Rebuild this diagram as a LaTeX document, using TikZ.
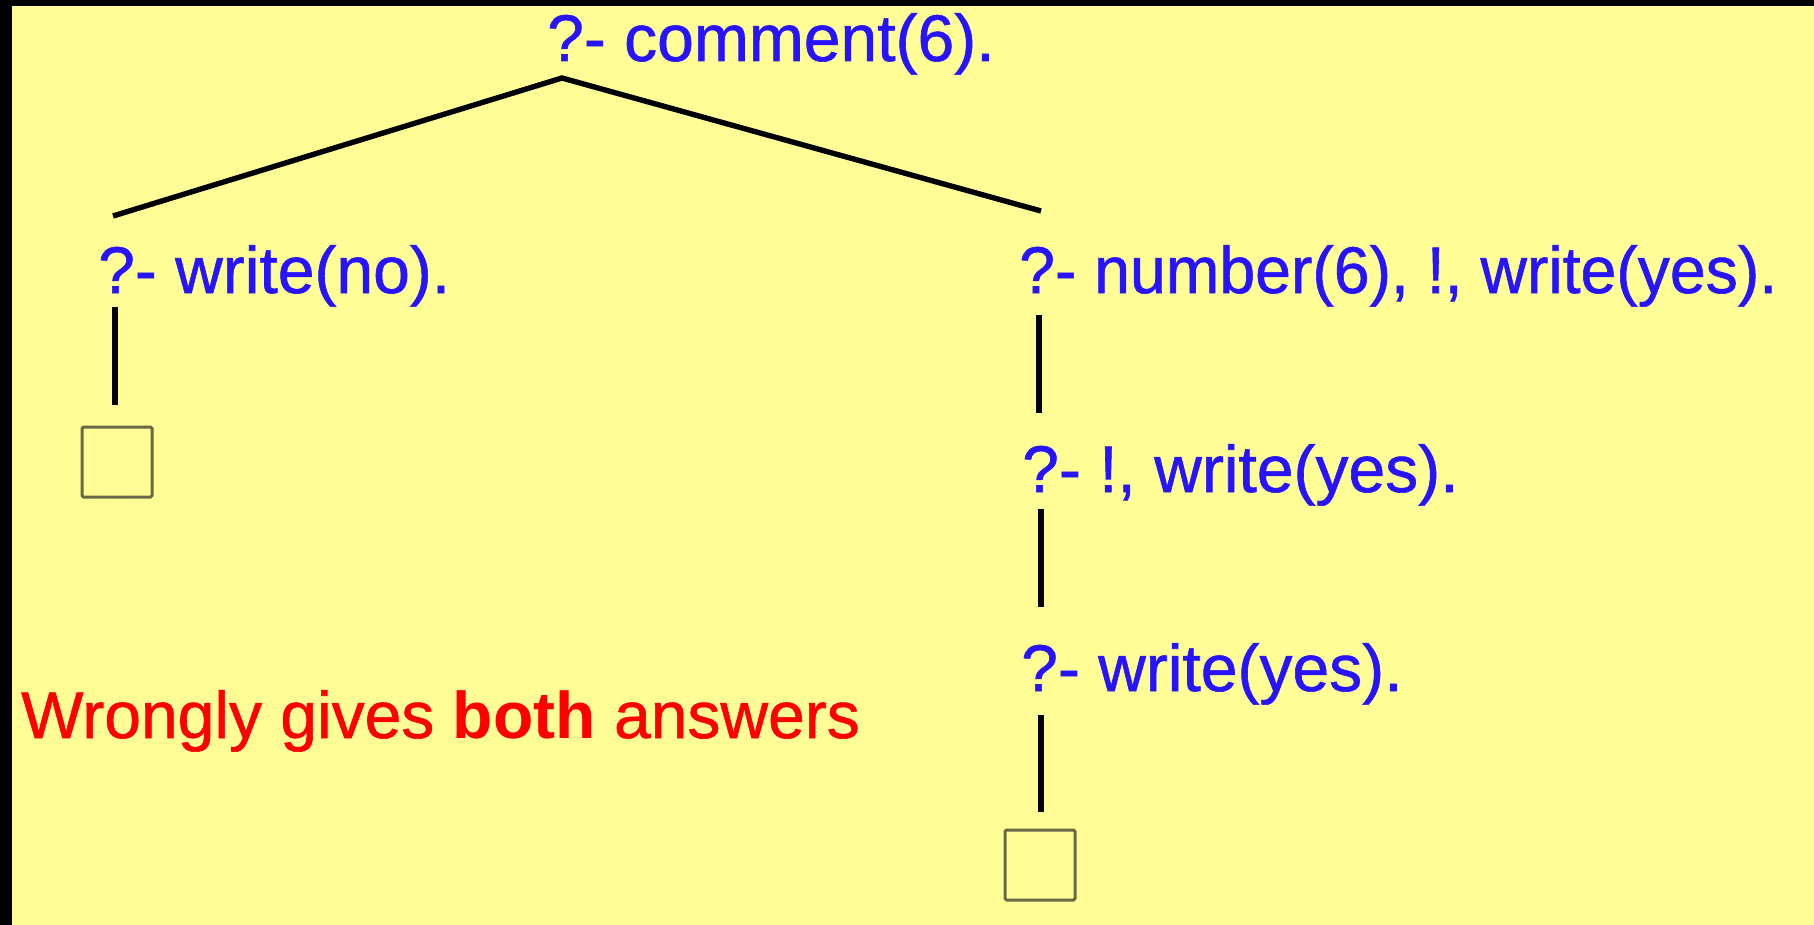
\documentclass[tikz,border=0pt]{standalone}
\usepackage{fontspec}
\setmainfont{Liberation Sans}
\newfontfamily\goalfont{Liberation Sans}[FakeBold=0.9]
\definecolor{bgyellow}{RGB}{255,254,150}
\definecolor{goalblue}{RGB}{40,20,252}
\definecolor{boxgray}{RGB}{105,105,70}
\begin{document}
\begin{tikzpicture}[x=1pt,y=-1pt,
  goal/.style={anchor=base west,inner sep=0pt,text=goalblue,font=\goalfont\fontsize{66pt}{79pt}\selectfont},
  note/.style={anchor=base west,inner sep=0pt,text=red,font=\goalfont\fontsize{66pt}{79pt}\selectfont},
  edge/.style={draw=black,line width=5.4pt},
  emptybox/.style={draw=boxgray,line width=3pt,rounded corners=1.5pt,minimum width=70pt,minimum height=70pt,inner sep=0pt}]
\useasboundingbox (0,0) rectangle (1814,925);
\fill[black] (0,0) rectangle (1814,925);
\fill[bgyellow] (12,6) rectangle (1814,925);
% goals
\node[goal] (root) at (547,61) {?- comment(6).};
\node[goal] (left) at (98,293) {?- write(no).};
\node[goal,xscale=0.975] (r1) at (1019,293) {?- number(6), !, write(yes).};
\node[goal] (r2) at (1022,492) {?- !, write(yes).};
\node[goal] (r3) at (1021,691) {?- write(yes).};
\node[emptybox] (lbox) at (117,462) {};
\node[emptybox] (rbox) at (1040,865) {};
\node[note] (msg) at (21,738) {Wrongly gives {\normalfont\bfseries both} answers};
% connector end points
\coordinate (apex) at (562,78);
\coordinate (lend) at (113,216);
\coordinate (rend) at (1041,211);
\coordinate (la) at (115,307);
\coordinate (lb) at (115,405);
\coordinate (r1a) at (1039,315);
\coordinate (r1b) at (1039,413);
\coordinate (r2a) at (1041,509);
\coordinate (r2b) at (1041,607);
\coordinate (r3a) at (1041,715);
\coordinate (r3b) at (1041,812);
\draw[edge] (lend) -- (apex) -- (rend);
\draw[edge] (la) -- (lb);
\draw[edge] (r1a) -- (r1b);
\draw[edge] (r2a) -- (r2b);
\draw[edge] (r3a) -- (r3b);
\end{tikzpicture}
\end{document}
